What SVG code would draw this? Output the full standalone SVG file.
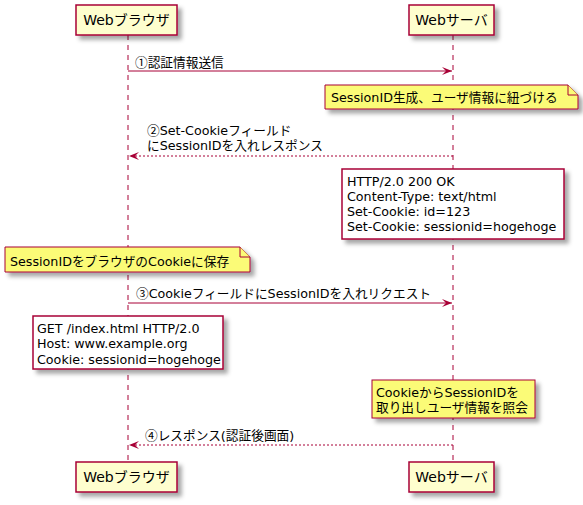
<svg xmlns="http://www.w3.org/2000/svg" width="583" height="505" viewBox="0 0 583 505">
<defs>
<filter id="sh" x="-10%" y="-20%" width="130%" height="160%">
<feGaussianBlur in="SourceAlpha" stdDeviation="2"/>
<feOffset dx="4" dy="4" result="b"/>
<feFlood flood-color="#000" flood-opacity="0.35"/>
<feComposite in2="b" operator="in"/>
<feMerge><feMergeNode/><feMergeNode in="SourceGraphic"/></feMerge>
</filter>
<marker id="ar" viewBox="0 0 10 8" refX="10" refY="4" markerWidth="10" markerHeight="8" markerUnits="userSpaceOnUse" orient="auto">
<polygon points="0,0 10,4 0,8 4,4" fill="#A80036"/>
</marker>
</defs>
<style>
text{font-family:"DejaVu Sans","Noto Sans CJK JP",sans-serif;font-size:12.7px;fill:#000}
.p{font-size:14px}
.cj{font-family:"Noto Sans CJK JP",sans-serif}
.pbox{fill:#FEFECE;stroke:#A80036;stroke-width:1.5}
.note{fill:#FBFB77;stroke:#A80036;stroke-width:1}
.wbox{fill:#FFFFFF;stroke:#A80036;stroke-width:1.5}
.life{stroke:#A80036;stroke-width:1;stroke-dasharray:5,5;fill:none}
.msg{stroke:#A80036;stroke-width:1;fill:none}
.dot{stroke-dasharray:2,2}
</style>
<g id="lifelines">
<line class="life" x1="128" y1="35" x2="128" y2="462"/>
<line class="life" x1="453" y1="35" x2="453" y2="462"/>
</g>
<g id="browser">
<rect class="pbox" x="76" y="5" width="101" height="30" filter="url(#sh)"/>
<text class="p" x="126.5" y="25" text-anchor="middle">Webブラウザ</text>
</g>
<g id="server">
<rect class="pbox" x="409" y="5" width="85" height="30" filter="url(#sh)"/>
<text class="p" x="451.5" y="25" text-anchor="middle">Webサーバ</text>
</g>
<g id="browser-bottom">
<rect class="pbox" x="76" y="462" width="101" height="30" filter="url(#sh)"/>
<text class="p" x="126.5" y="482" text-anchor="middle">Webブラウザ</text>
</g>
<g id="server-bottom">
<rect class="pbox" x="409" y="462" width="85" height="30" filter="url(#sh)"/>
<text class="p" x="451.5" y="482" text-anchor="middle">Webサーバ</text>
</g>
<g id="connectors">
<line class="msg" x1="128" y1="71" x2="452" y2="71" marker-end="url(#ar)"/>
<text x="135" y="67"><tspan class="cj">①</tspan>認証情報送信</text>
<line class="msg dot" x1="453" y1="156" x2="129" y2="156" marker-end="url(#ar)"/>
<text x="147" y="135"><tspan class="cj">②</tspan>Set-Cookieフィールド</text>
<text x="147" y="150">にSessionIDを入れレスポンス</text>
<line class="msg" x1="128" y1="303" x2="452" y2="303" marker-end="url(#ar)"/>
<text x="136" y="298"><tspan class="cj">③</tspan>CookieフィールドにSessionIDを入れリクエスト</text>
<line class="msg dot" x1="453" y1="445" x2="129" y2="445" marker-end="url(#ar)"/>
<text x="145" y="440"><tspan class="cj">④</tspan>レスポンス(認証後画面)</text>
</g>
<g id="note-session">
<path class="note" d="M325,85 H568 L578,95 V109 H325 Z" filter="url(#sh)"/>
<path class="note" d="M568,85 V95 H578" fill="none"/>
<text x="331" y="102">SessionID生成、ユーザ情報に紐づける</text>
</g>
<g id="note-http">
<rect class="wbox" x="342" y="169" width="222" height="70" filter="url(#sh)"/>
<text x="347" y="186">HTTP/2.0 200 OK</text>
<text x="347" y="201">Content-Type: text/html</text>
<text x="347" y="216">Set-Cookie: id=123</text>
<text x="347" y="231">Set-Cookie: sessionid=hogehoge</text>
</g>
<g id="note-save">
<path class="note" d="M5,247 H240 L250,257 V272 H5 Z" filter="url(#sh)"/>
<path class="note" d="M240,247 V257 H250" fill="none"/>
<text x="10" y="266">SessionIDをブラウザのCookieに保存</text>
</g>
<g id="note-get">
<rect class="wbox" x="33" y="316" width="190" height="53" filter="url(#sh)"/>
<text x="37" y="333">GET /index.html HTTP/2.0</text>
<text x="37" y="348">Host: www.example.org</text>
<text x="37" y="364">Cookie: sessionid=hogehoge</text>
</g>
<g id="note-cookie">
<rect class="note" x="372" y="380" width="163" height="38" filter="url(#sh)"/>
<text x="376" y="397">CookieからSessionIDを</text>
<text x="376" y="412">取り出しユーザ情報を照会</text>
</g>
</svg>
